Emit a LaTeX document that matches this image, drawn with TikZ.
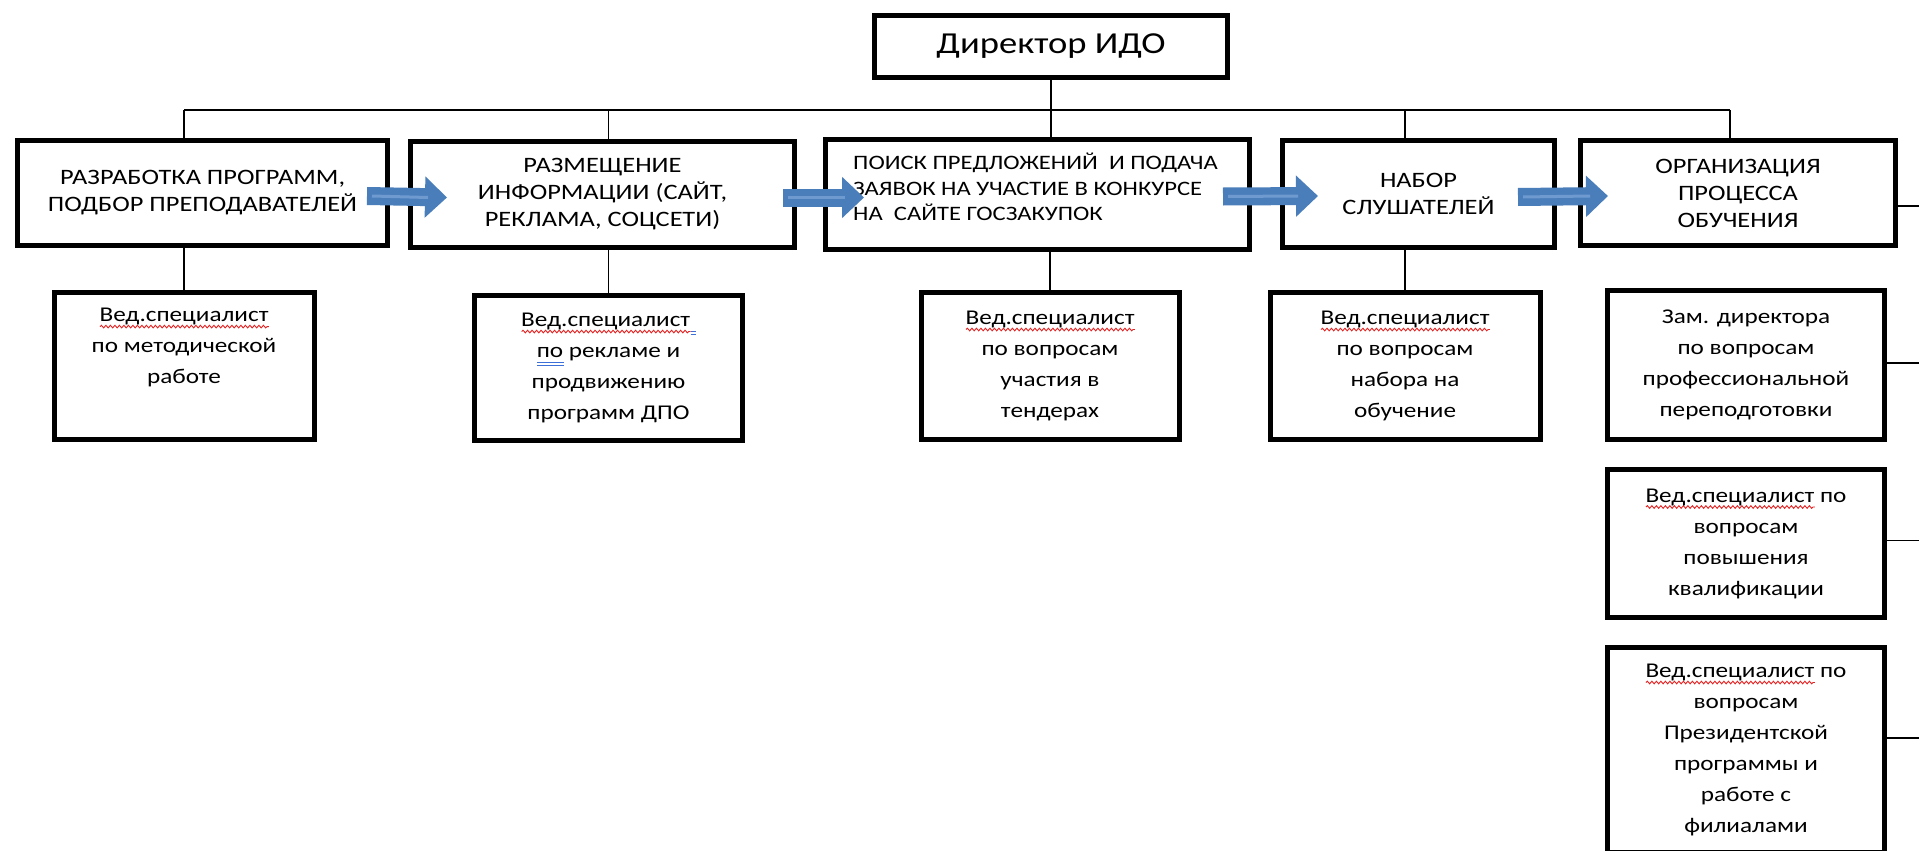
\documentclass[tikz,border=0pt]{standalone}
\usepackage{fontspec}
\setmainfont{Carlito}[FakeStretch=1.2]
\usetikzlibrary{arrows.meta,decorations.pathmorphing}
\definecolor{arrowfill}{HTML}{4A7EBB}
\definecolor{arrowlight}{HTML}{6F9AD0}
\definecolor{spellred}{HTML}{E52222}
\definecolor{gramblue}{HTML}{3C6FD8}
\newsavebox\spellbox
\newcommand\redwave[1]{\sbox\spellbox{#1}\rlap{\tikz[baseline=0pt]{\draw[spellred, line width=0.9pt, decorate, decoration={snake, amplitude=1.3pt, segment length=4.5pt}] (0pt,-5pt) -- (\wd\spellbox,-5pt);}}\usebox\spellbox}
\newcommand\bluedbl[1]{\sbox\spellbox{#1}\rlap{\tikz[baseline=0pt]{\draw[gramblue, line width=0.9pt] (0pt,-4.5pt) -- (\wd\spellbox,-4.5pt) (0pt,-7.5pt) -- (\wd\spellbox,-7.5pt);}}\usebox\spellbox}
\tikzset{
  box/.style={draw, line width=5pt, rectangle, inner sep=0pt, align=center},
  topfont/.style={font=\fontsize{22}{27}\selectfont},
  subfont/.style={font=\fontsize{21}{31}\selectfont},
  conn/.style={line width=1.8pt},
  blockarrow/.style={draw=arrowfill, line width=18pt, -{Triangle[width=40pt,length=22pt,fill=arrowfill]}},
  arrowshine/.style={draw=arrowlight, line width=3pt},
}
\begin{document}
\begin{tikzpicture}[x=1pt,y=-1pt]
\useasboundingbox (0,0) rectangle (1919,851);
\clip (0,0) rectangle (1919,851);
\fill[white] (0,0) rectangle (1919,851);

% director
\node[box, minimum width=353, minimum height=62, font=\fontsize{30.5}{36}\selectfont] (dir) at (1051,46.5) {Директор ИДО};

% top row
\node[box, topfont, minimum width=370, minimum height=105] (t1) at (202.5,193) {РАЗРАБОТКА ПРОГРАММ,\\ПОДБОР ПРЕПОДАВАТЕЛЕЙ};
\node[box, topfont, minimum width=384, minimum height=106] (t2) at (602.5,194.5) {РАЗМЕЩЕНИЕ\\ИНФОРМАЦИИ (САЙТ,\\РЕКЛАМА, СОЦСЕТИ)};
\node[box, minimum width=424, minimum height=110] (t3) at (1037.5,194.5) {};
\node[anchor=west, align=left, inner sep=0pt, font=\fontsize{20.5}{25.5}\selectfont] (t3txt) at (853,187) {ПОИСК ПРЕДЛОЖЕНИЙ \ И ПОДАЧА\\ЗАЯВОК НА УЧАСТИЕ В КОНКУРСЕ\\НА \ САЙТЕ ГОСЗАКУПОК};
\node[box, topfont, minimum width=272, minimum height=107] (t4) at (1418.5,194) {НАБОР\\СЛУШАТЕЛЕЙ};
\node[box, topfont, minimum width=315, minimum height=105] (t5) at (1738,193) {ОРГАНИЗАЦИЯ\\ПРОЦЕССА\\ОБУЧЕНИЯ};

% lower boxes
\node[box, subfont, minimum width=260, minimum height=147] (b1) at (184,366) {\redwave{Вед.специалист}\\по методической\\работе\\\strut};
\node[box, subfont, minimum width=268, minimum height=145] (b2) at (608.5,368) {\redwave{Вед.специалист}\bluedbl{\ }\\\bluedbl{по} рекламе и\\продвижению\\программ ДПО};
\node[box, subfont, minimum width=258, minimum height=147] (b3) at (1050,366) {\redwave{Вед.специалист}\\по вопросам\\участия в\\тендерах};
\node[box, subfont, minimum width=270, minimum height=147] (b4) at (1405,366) {\redwave{Вед.специалист}\\по вопросам\\набора на\\обучение};

% right column
\node[box, subfont, minimum width=277, minimum height=149] (r1) at (1746,365) {Зам. директора\\по вопросам\\профессиональной\\переподготовки};
\node[box, subfont, minimum width=277, minimum height=148] (r2) at (1746,543.5) {\redwave{Вед.специалист} по\\вопросам\\повышения\\квалификации};
\node[box, subfont, minimum width=277, minimum height=205] (r3) at (1746,750) {\redwave{Вед.специалист} по\\вопросам\\Президентской\\программы и\\работе с\\филиалами};

% connectors
\coordinate (bus) at (0,110);
\coordinate (t5drop) at ([xshift=-8pt]t5.north);
\draw[conn] (dir.south) -- (dir.south |- t3.north);
\draw[conn] (b1.north |- bus) -- (t5drop |- bus);
\draw[conn] (b1.north |- bus) -- (b1.north |- t1.north);
\draw[conn] (b2.north |- bus) -- (b2.north |- t2.north);
\draw[conn] (b4.north |- bus) -- (b4.north |- t4.north);
\draw[conn] (t5drop |- bus) -- (t5drop);
\draw[conn] (b1.north) -- (b1.north |- t1.south);
\draw[conn] (b2.north) -- (b2.north |- t2.south);
\draw[conn] (b3.north) -- (b3.north |- t3.south);
\draw[conn] (b4.north) -- (b4.north |- t4.south);
\draw[conn] ([yshift=-13pt]t5.east) -- ++(40,0);
\draw[conn] ([yshift=2pt]r1.east) -- ++(40,0);
\draw[conn] ([yshift=3pt]r2.east) -- ++(40,0);
\draw[conn] ([yshift=12pt]r3.east) -- ++(40,0);

% block arrows
\draw[blockarrow] ([xshift=-23pt,yshift=-3pt]t1.east) -- ([xshift=39pt,yshift=-3pt]t2.west);
\draw[blockarrow] ([xshift=-14pt,yshift=-3pt]t2.east) -- ([xshift=41pt,yshift=-3pt]t3.west);
\draw[blockarrow] ([xshift=-29pt,yshift=-2pt]t3.east) -- ([xshift=38pt,yshift=-2pt]t4.west);
\draw[blockarrow] ([xshift=-39pt,yshift=-3pt]t4.east) -- ([xshift=30pt,yshift=-3pt]t5.west);
\draw[arrowshine] ([xshift=-18pt,yshift=-3pt]t1.east) -- ([xshift=20pt,yshift=-3pt]t2.west);
\draw[arrowshine] ([xshift=-9pt,yshift=-3pt]t2.east) -- ([xshift=22pt,yshift=-3pt]t3.west);
\draw[arrowshine] ([xshift=-24pt,yshift=-2pt]t3.east) -- ([xshift=18pt,yshift=-2pt]t4.west);
\draw[arrowshine] ([xshift=-34pt,yshift=-3pt]t4.east) -- ([xshift=12pt,yshift=-3pt]t5.west);
\end{tikzpicture}
\end{document}
